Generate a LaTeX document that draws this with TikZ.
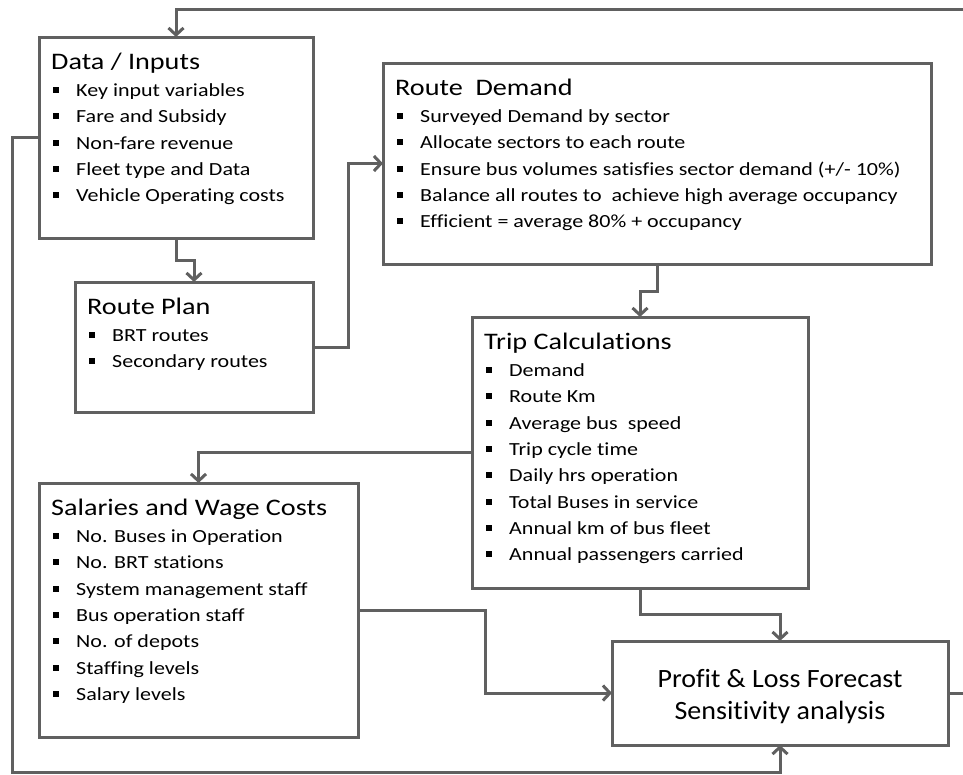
\documentclass[tikz,border=0pt]{standalone}
\usepackage{fontspec}
\setmainfont{Carlito}[FakeStretch=1.19,Ligatures=CommonOff]
\newfontfamily\plfont{Carlito}[FakeStretch=1.06,Ligatures=CommonOff]
\usetikzlibrary{arrows.meta,calc}
\definecolor{linegray}{RGB}{96,96,96}
\tikzset{
 box/.style={draw=linegray, line width=3pt, rectangle, anchor=north west, inner sep=0pt, outer sep=0pt, fill=white},
 conn/.style={draw=linegray, line width=3pt, -{Straight Barb[length=7pt,width=15pt]}},
 ttl/.style={anchor=base west, inner sep=0pt, font=\fontsize{23.7}{28}\selectfont},
 itm/.style={anchor=base west, inner sep=0pt, font=\fontsize{18.5}{22}\selectfont},
 pltxt/.style={inner sep=0pt, align=center, font=\plfont\fontsize{26.4}{32}\selectfont},
}
\newcommand\sqb{\makebox[23pt][l]{\rule[3.5pt]{6pt}{6pt}}}
\newcommand\boxlist[3]{%
 \node[ttl] (#1-t) at ($(#1.north west)+(12,32)$) {#2};
 \foreach \t [count=\i] in {#3} {\node[itm] (#1-\i) at ($(#1.north west)+(14,{59.5+(\i-1)*26.3})$) {\sqb\t};}
}
\begin{document}
\begin{tikzpicture}[x=1pt,y=-1pt]
\useasboundingbox (0,0) rectangle (963,774);
% boxes
\node[box, minimum width=274pt, minimum height=201pt] (data) at (39,37) {};
\node[box, minimum width=238pt, minimum height=130pt] (rp) at (75,282) {};
\node[box, minimum width=548pt, minimum height=201pt] (rd) at (383,63) {};
\node[box, minimum width=336pt, minimum height=271pt] (trip) at (472,317) {};
\node[box, minimum width=319pt, minimum height=254pt] (sal) at (39,483) {};
\node[box, minimum width=336pt, minimum height=104pt] (pl) at (612,641) {};
% texts
\boxlist{data}{Data / Inputs}{Key input variables, Fare and Subsidy, Non-fare revenue, Fleet type and Data, Vehicle Operating costs}
\boxlist{rp}{Route Plan}{BRT routes, Secondary routes}
\boxlist{rd}{Route\ \ Demand}{Surveyed Demand by sector, Allocate sectors to each route, Ensure bus volumes satisfies sector demand (+/- 10\%), Balance all routes to\ \ achieve high average occupancy, Efficient = average 80\% + occupancy}
\boxlist{trip}{Trip Calculations}{Demand, Route Km, Average bus\ \ speed, Trip cycle time, Daily hrs operation, Total Buses in service, Annual km of bus fleet, Annual passengers carried}
\boxlist{sal}{Salaries and Wage Costs}{No. Buses in Operation, No. BRT stations, System management staff, Bus operation staff, No. of depots, Staffing levels, Salary levels}
\node[pltxt] (pl-t) at ($(pl.center)+(0,4)$) {Profit \& Loss Forecast\\Sensitivity analysis};
% coordinates
\coordinate (bl) at (12,772);
\coordinate (tr) at (972,9);
% connectors
\draw[conn] (data.south) -- ++(0,22) -| (rp.north);
\draw[conn] (rp.east) -- ++(35,0) |- (rd.west);
\draw[conn] (rd.south) -- ++(0,27) -| (trip.north);
\draw[conn] (trip.west) -| (sal.north);
\draw[conn] (trip.south) -- ++(0,26) -| (pl.north);
\draw[conn] (sal.east) -- ++(127,0) |- (pl.west);
\draw[conn] (data.west) -| (bl) -| (pl.south);
\draw[conn] (pl.east) -| (tr) -| (data.north);
\end{tikzpicture}
\end{document}
